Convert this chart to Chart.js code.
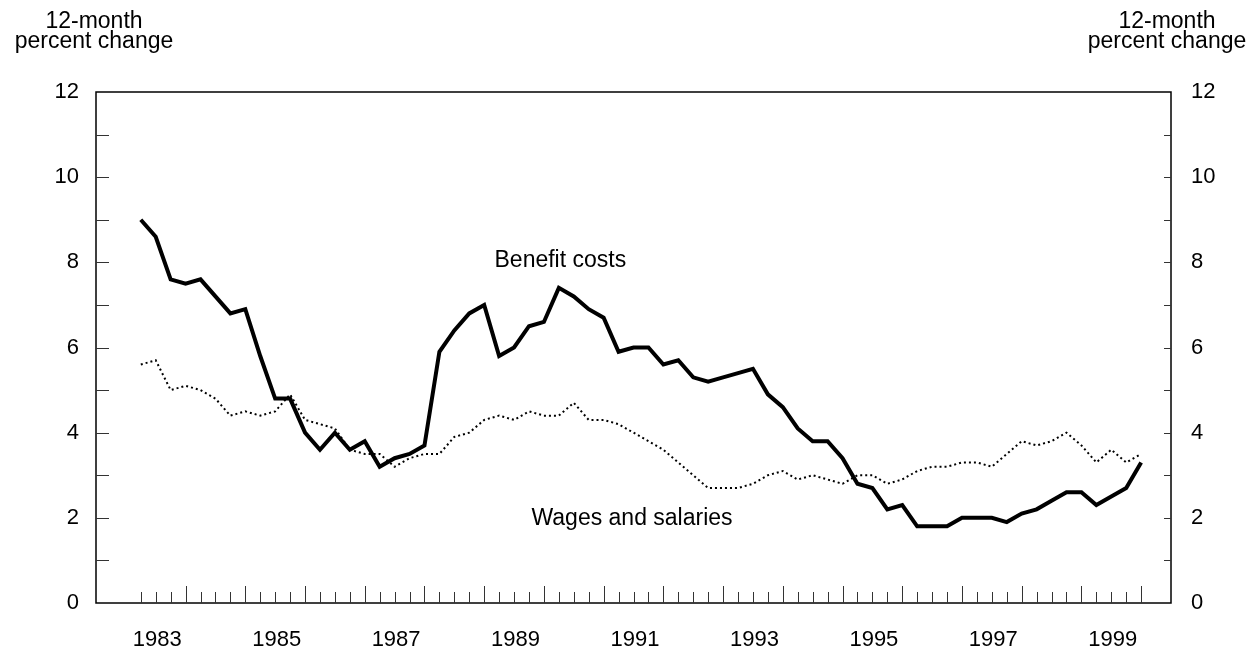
<!DOCTYPE html>
<html>
<head>
<meta charset="utf-8">
<script src="https://cdn.jsdelivr.net/npm/chart.js@4.4.1/dist/chart.umd.min.js"></script>
<style>
  html, body { margin: 0; padding: 0; background: #fff; }
</style>
</head>
<body>
<canvas id="chart" width="1260" height="646"></canvas>
<script>
// quarterly values, 1983 Q1 .. 1999 Q4 (12-month percent change)
const benefitCosts = [
  9.0, 8.6, 7.6, 7.5, 7.6, 7.2, 6.8, 6.9, 5.8, 4.8, 4.8, 4.0, 3.6, 4.0, 3.6, 3.8,
  3.2, 3.4, 3.5, 3.7, 5.9, 6.4, 6.8, 7.0, 5.8, 6.0, 6.5, 6.6, 7.4, 7.2, 6.9, 6.7,
  5.9, 6.0, 6.0, 5.6, 5.7, 5.3, 5.2, 5.3, 5.4, 5.5, 4.9, 4.6, 4.1, 3.8, 3.8, 3.4,
  2.8, 2.7, 2.2, 2.3, 1.8, 1.8, 1.8, 2.0, 2.0, 2.0, 1.9, 2.1, 2.2, 2.4, 2.6, 2.6,
  2.3, 2.5, 2.7, 3.3
];
const wagesSalaries = [
  5.6, 5.7, 5.0, 5.1, 5.0, 4.8, 4.4, 4.5, 4.4, 4.5, 4.9, 4.3, 4.2, 4.1, 3.6, 3.5,
  3.5, 3.2, 3.4, 3.5, 3.5, 3.9, 4.0, 4.3, 4.4, 4.3, 4.5, 4.4, 4.4, 4.7, 4.3, 4.3,
  4.2, 4.0, 3.8, 3.6, 3.3, 3.0, 2.7, 2.7, 2.7, 2.8, 3.0, 3.1, 2.9, 3.0, 2.9, 2.8,
  3.0, 3.0, 2.8, 2.9, 3.1, 3.2, 3.2, 3.3, 3.3, 3.2, 3.5, 3.8, 3.7, 3.8, 4.0, 3.7,
  3.3, 3.6, 3.3, 3.5
];
const firstYear = 1983;
const yearLabels = [1983, 1985, 1987, 1989, 1991, 1993, 1995, 1997, 1999];
const yTickValues = [0, 2, 4, 6, 8, 10, 12];
const axisTitle = ['12-month', 'percent change'];
const seriesNames = ['Benefit costs', 'Wages and salaries'];

const FAMILY = '"Liberation Sans", Arial, sans-serif';
const TICK_FONT = { family: FAMILY, size: 22 };
const TEXT_SIZE = 23;
const YEAR_OFFSET = 1.1; // label sits mid calendar year (index 0 = March)

const toPoints = arr => arr.map((v, i) => ({ x: i, y: v }));

const decorations = {
  id: 'decorations',
  afterDatasetsDraw(chart) {
    const { ctx, chartArea: a, scales: { x, y } } = chart;
    ctx.save();
    // frame
    ctx.strokeStyle = '#000';
    ctx.lineWidth = 1.5;
    ctx.strokeRect(a.left, a.top, a.right - a.left, a.bottom - a.top);
    // inside tick marks
    ctx.lineWidth = 1;
    ctx.strokeStyle = '#333';
    ctx.beginPath();
    for (let v = 1; v < 12; v++) {
      const py = Math.round(y.getPixelForValue(v)) + 0.5;
      ctx.moveTo(a.left, py); ctx.lineTo(a.left + 13, py);
      ctx.moveTo(a.right, py); ctx.lineTo(a.right - 7, py);
    }
    benefitCosts.forEach((_, i) => {
      const px = Math.round(x.getPixelForValue(i)) + 0.5;
      const len = i % 4 === 3 ? 17 : 11;
      ctx.moveTo(px, a.bottom); ctx.lineTo(px, a.bottom - len);
    });
    ctx.stroke();

    // text
    ctx.fillStyle = '#000';
    ctx.font = TEXT_SIZE + 'px ' + FAMILY;
    ctx.textAlign = 'center';
    ctx.textBaseline = 'alphabetic';
    ctx.fillText(seriesNames[0], x.getPixelForValue(28.1), y.getPixelForValue(7.89));
    ctx.fillText(seriesNames[1], x.getPixelForValue(32.9), y.getPixelForValue(1.84));
    [94, 1167].forEach(cx => {
      ctx.fillText(axisTitle[0], cx, 28);
      ctx.fillText(axisTitle[1], cx, 48);
    });
    ctx.restore();
  }
};

new Chart(document.getElementById('chart'), {
  type: 'line',
  data: {
    datasets: [
      {
        label: seriesNames[0],
        data: toPoints(benefitCosts),
        borderColor: '#000',
        borderWidth: 4,
        pointRadius: 0,
        tension: 0,
        yAxisID: 'y'
      },
      {
        label: seriesNames[1],
        data: toPoints(wagesSalaries),
        borderColor: '#000',
        borderWidth: 2,
        borderDash: [2, 3],
        pointRadius: 0,
        tension: 0,
        yAxisID: 'y'
      }
    ]
  },
  options: {
    responsive: false,
    animation: false,
    devicePixelRatio: 1,
    layout: { padding: { top: 92, left: 0, right: 0, bottom: 0 } },
    plugins: { legend: { display: false }, tooltip: { enabled: false } },
    scales: {
      x: {
        type: 'linear',
        min: -3,
        max: 69,
        grid: { display: false, drawTicks: false },
        border: { display: false },
        afterBuildTicks: s => { s.ticks = yearLabels.map(yr => ({ value: (yr - firstYear) * 4 + YEAR_OFFSET })); },
        afterFit: s => { s.height = 43; },
        ticks: {
          autoSkip: false,
          maxRotation: 0,
          padding: 24,
          color: '#000',
          font: TICK_FONT,
          callback: v => String(Math.round((v - YEAR_OFFSET) / 4) + firstYear)
        }
      },
      y: {
        position: 'left',
        min: 0,
        max: 12,
        grid: { display: false, drawTicks: false },
        border: { display: false },
        afterBuildTicks: s => { s.ticks = yTickValues.map(v => ({ value: v })); },
        afterFit: s => { s.width = 96; },
        ticks: { padding: 17, color: '#000', font: TICK_FONT }
      },
      y2: {
        position: 'right',
        min: 0,
        max: 12,
        grid: { display: false, drawTicks: false },
        border: { display: false },
        afterBuildTicks: s => { s.ticks = yTickValues.map(v => ({ value: v })); },
        afterFit: s => { s.width = 89; },
        ticks: { padding: 20, color: '#000', font: TICK_FONT }
      }
    }
  },
  plugins: [decorations]
});
</script>
</body>
</html>
